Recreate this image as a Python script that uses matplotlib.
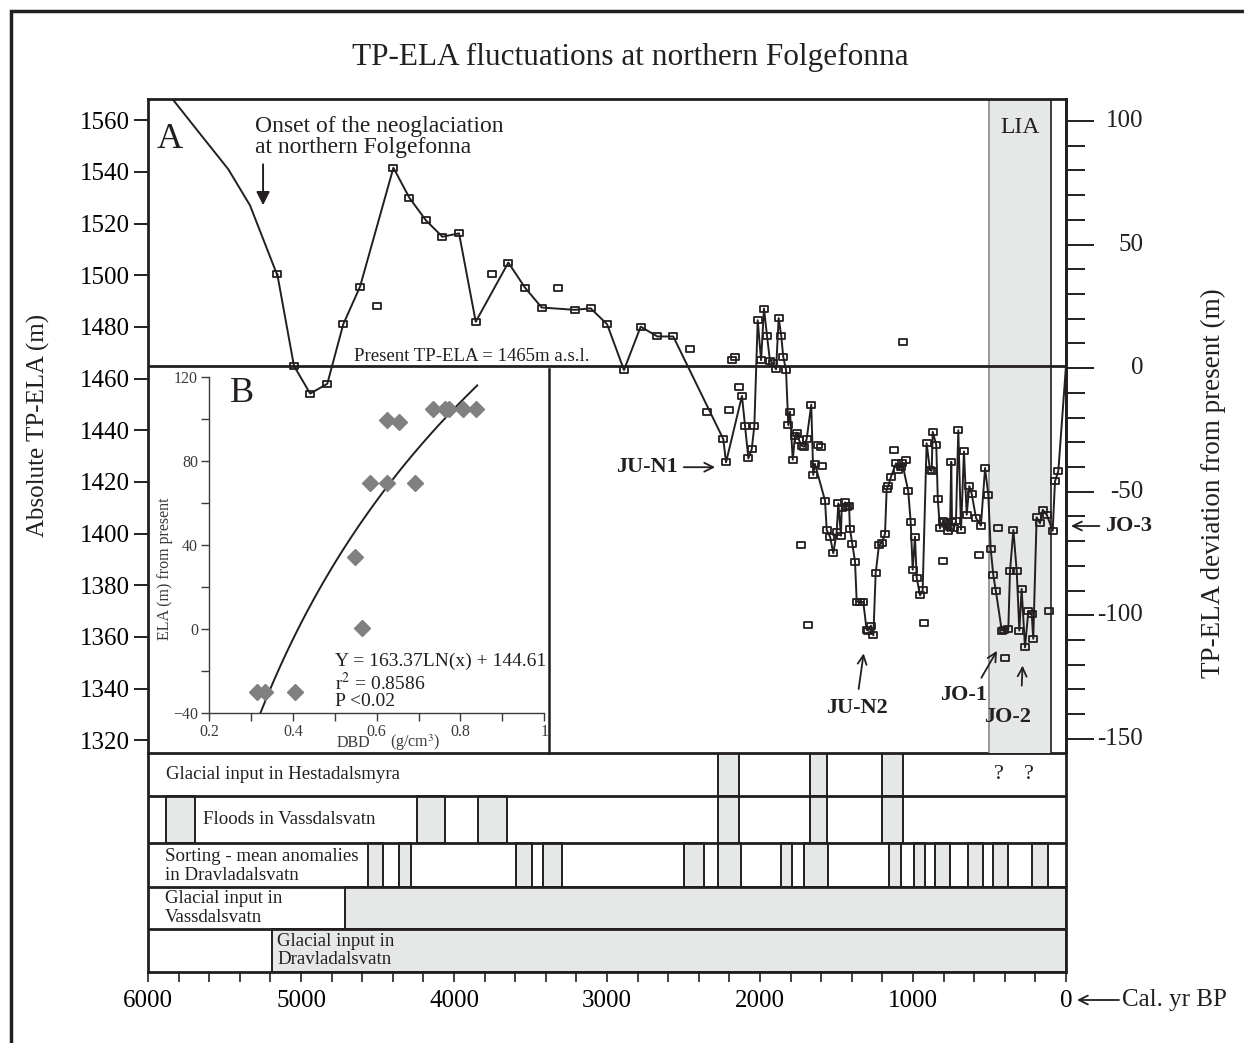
import numpy as np
import matplotlib.pyplot as plt
import matplotlib.transforms as mtransforms
from matplotlib.patches import Rectangle
from matplotlib.lines import Line2D
from matplotlib.path import Path

plt.rcParams['font.family'] = ['Liberation Serif', 'DejaVu Serif']
plt.rcParams['mathtext.fontset'] = 'stix'

# ---------------- data ----------------
present_ela = 1465

# smooth curve before the neoglaciation (no markers)
curve_yr = [5960, 5824, 5650, 5475, 5333, 5155]
curve_ela = [1577, 1567, 1554, 1541, 1527, 1500]

# connected TP-ELA reconstruction
conn_yr = [5155, 5046, 4940, 4828, 4724, 4614, 4396, 4292, 4183, 4076, 3967, 3858,
           3645, 3536, 3427, 3210, 3107, 2999, 2889, 2780, 2671, 2567, 2240, 2222,
           2118, 2098, 2076, 2054, 2037, 2015, 1993, 1974, 1954, 1935, 1917, 1895,
           1878, 1861, 1848, 1830, 1815, 1804, 1786, 1771, 1760, 1745, 1727, 1712,
           1695, 1665, 1652, 1641, 1575, 1564, 1542, 1521, 1499, 1488, 1471, 1466,
           1444, 1433, 1418, 1412, 1397, 1379, 1368, 1346, 1325, 1303, 1292, 1275,
           1259, 1244, 1222, 1205, 1183, 1172, 1161, 1144, 1111, 1096, 1078, 1070,
           1031, 1015, 1002, 987, 976, 954, 937, 911, 889, 878, 871, 848,
           838, 824, 802, 795, 780, 773, 758, 750, 745, 732, 719, 704,
           686, 667, 649, 632, 616, 588, 556, 529, 508, 492, 475, 458,
           420, 405, 377, 366, 344, 322, 305, 290, 268, 246, 224, 214,
           192, 170, 152, 126, 87, 72, 50]
conn_ela = [1500.4, 1464.9, 1454.2, 1458.0, 1481.0, 1495.6, 1541.6, 1530.0, 1521.2, 1514.9, 1516.2, 1482.0,
            1504.9, 1495.2, 1487.5, 1486.6, 1487.2, 1481.0, 1463.3, 1480.1, 1476.3, 1476.3, 1436.6, 1427.6,
            1453.3, 1441.7, 1429.1, 1432.7, 1441.7, 1482.6, 1467.1, 1487.1, 1476.5, 1466.9, 1466.0, 1463.6,
            1483.4, 1476.5, 1468.4, 1463.4, 1442.0, 1447.2, 1428.6, 1437.9, 1439.1, 1436.2, 1434.0, 1433.6,
            1436.6, 1449.9, 1422.7, 1427.0, 1412.8, 1401.4, 1398.8, 1392.4, 1400.5, 1411.7, 1399.2, 1409.9,
            1412.1, 1410.4, 1410.8, 1401.8, 1396.0, 1389.2, 1373.7, 1373.5, 1373.5, 1362.8, 1362.5, 1364.4,
            1360.6, 1384.7, 1395.7, 1396.3, 1399.9, 1417.3, 1418.6, 1422.0, 1427.2, 1424.6, 1425.9, 1427.2,
            1416.4, 1404.4, 1386.0, 1398.8, 1383.0, 1376.1, 1378.0, 1435.0, 1424.6, 1424.3, 1439.4, 1434.3,
            1413.4, 1402.0, 1405.0, 1404.4, 1403.7, 1400.9, 1402.7, 1427.8, 1404.4, 1402.2, 1405.0, 1440.0,
            1401.5, 1431.8, 1407.3, 1418.4, 1415.3, 1406.0, 1403.1, 1425.4, 1415.0, 1394.0, 1383.8, 1377.7,
            1362.5, 1362.8, 1363.1, 1385.4, 1401.4, 1385.4, 1362.5, 1378.6, 1356.0, 1370.0, 1368.7, 1359.3,
            1406.3, 1404.0, 1409.2, 1407.3, 1401.1, 1420.2, 1424.3]

# single (unconnected) samples
single_yr = [4505, 3750, 3318, 2458, 2349, 2201, 2181, 2161, 2137, 1732, 1686, 1619,
             1603, 1593, 1122, 1063, 1048, 928, 806, 568, 443, 399, 109]
single_ela = [1488.1, 1500.5, 1495.2, 1471.4, 1447.1, 1447.8, 1467.1, 1468.4, 1456.8, 1395.5, 1364.8, 1434.4,
              1433.4, 1426.0, 1432.3, 1474.3, 1428.5, 1365.3, 1389.4, 1391.9, 1402.0, 1351.9, 1370.0]

lia = (501, 96)

# inset B: DBD vs ELA
dbd = [0.314, 0.334, 0.405, 0.548, 0.564, 0.583, 0.625, 0.691, 0.625, 0.654,
       0.735, 0.763, 0.773, 0.805, 0.837]
ela_dbd = [-30, -30, -30.3, 34.1, 0.6, 69.4, 69.4, 69.4, 99.6, 98.8,
           104.7, 104.7, 104.7, 104.7, 104.7]
fit_a, fit_b = 163.37, 144.61
fit_r2, fit_p = 0.8586, 0.02

# event bars (older, younger) in cal. yr BP
hesta_bars = [(2275, 2137), (1673, 1562), (1203, 1065)]
floods_bars = [(5884, 5693), (4244, 4057), (3843, 3656), (2275, 2137), (1673, 1562), (1203, 1065)]
sorting_bars = [(4560, 4462), (4358, 4281), (3595, 3492), (3421, 3296), (2495, 2364), (2273, 2124),
                (1861, 1789), (1712, 1558), (1155, 1078), (992, 920), (856, 756), (639, 540),
                (475, 377), (220, 120)]
vass_bars = [(4712, 0)]
drav_bars = [(5188, 0)]
uncertain_yr = [436, 246]

ela_ticks = list(range(1320, 1561, 20))
dev_ticks = [-150, -100, -50, 0, 50, 100]
yr_ticks = [0, 1000, 2000, 3000, 4000, 5000, 6000]

# ---------------- layout ----------------
W, H = 1244, 1043
ink = '#231f20'
grey = '#e6e7e7'


def box(l, t, r, b):
    return [l / W, 1 - b / H, (r - l) / W, (b - t) / H]


fig = plt.figure(figsize=(W / 100, H / 100), dpi=100)

ax = fig.add_axes(box(148, 99, 1066, 753), facecolor='none', zorder=3)
ax_bot = fig.add_axes(box(148, 753, 1066, 972), zorder=2)
ax_b = fig.add_axes(box(209, 377.3, 544.3, 712.7), zorder=1)

# white box behind the inset
fig.add_artist(Rectangle((148 / W, 1 - 753 / H), (549 - 148) / W, (753 - 369) / H,
                         transform=fig.transFigure, facecolor='white', edgecolor='none', zorder=0.5))
fig.add_artist(Line2D([549 / W, 549 / W], [1 - 753 / H, 1 - 369 / H], transform=fig.transFigure,
                      color=ink, lw=1.8, zorder=2.5))

# ---- panel A ----
ax.set_xlim(6000, 0)
ax.set_ylim(1315.1, 1568.2)
ax.set_xticks([])
ax.set_yticks(ela_ticks)
ax.tick_params(axis='y', direction='out', length=10, width=1.4, color=ink, labelsize=18, pad=3)
ax.spines['bottom'].set_visible(False)
for s in ['top', 'left', 'right']:
    ax.spines[s].set_linewidth(2)
    ax.spines[s].set_color(ink)

ax.axvspan(lia[0], lia[1], facecolor=grey, edgecolor='none', zorder=0)
ax.axvline(lia[0], color='#8a8a8a', lw=1.2, zorder=1)
ax.axvline(lia[1], color=ink, lw=1.2, zorder=1)
ax.axhline(present_ela, color=ink, lw=2, zorder=2)

ax.plot(curve_yr + conn_yr + [0], curve_ela + conn_ela + [present_ela], color=ink, lw=1.4, zorder=4)
rect = Path([(-1, -0.75), (1, -0.75), (1, 0.75), (-1, 0.75), (-1, -0.75)],
            [Path.MOVETO, Path.LINETO, Path.LINETO, Path.LINETO, Path.CLOSEPOLY])
ax.plot(conn_yr, conn_ela, ls='none', marker=rect, ms=5.8, mfc='none', mec=ink, mew=1.3, zorder=5)
ax.plot(single_yr, single_ela, ls='none', marker=rect, ms=5.8, mfc='none', mec=ink, mew=1.3, zorder=5)

ax.text(5856, 1552.4, 'A', fontsize=26, ha='center', va='center', color=ink)
ax.text(301, 1557.1, 'LIA', fontsize=17, ha='center', va='center', color=ink)
ax.text(3882, 1468.4, 'Present TP-ELA = 1465m a.s.l.', fontsize=13.5, ha='center', va='center', color=ink)
ax.text(5301, 1553.4, 'Onset of the neoglaciation\nat northern Folgefonna', fontsize=17,
        ha='left', va='center', linespacing=1.0, color=ink)
ax.annotate('', xy=(5248, 1526), xytext=(5248, 1544),
            arrowprops=dict(arrowstyle='-|>', color=ink, lw=1.4, mutation_scale=20))

open_arrow = dict(arrowstyle='->', color=ink, lw=1.3, mutation_scale=16)
ax.text(2536, 1425.7, 'JU-N1', fontsize=16, fontweight='bold', ha='right', va='center', color=ink)
ax.annotate('', xy=(2275, 1425.7), xytext=(2516, 1425.7), arrowprops=open_arrow)
ax.text(1366, 1332.5, 'JU-N2', fontsize=16, fontweight='bold', ha='center', va='center', color=ink)
ax.annotate('', xy=(1320, 1354.7), xytext=(1358, 1338.8), arrowprops=open_arrow)
ax.text(667, 1337.5, 'JO-1', fontsize=16, fontweight='bold', ha='center', va='center', color=ink)
ax.annotate('', xy=(442, 1355.6), xytext=(562, 1343.3), arrowprops=open_arrow)
ax.text(379, 1329.1, 'JO-2', fontsize=16, fontweight='bold', ha='center', va='center', color=ink)
ax.annotate('', xy=(283, 1350), xytext=(290, 1340.1), arrowprops=open_arrow)
ax.annotate('JO-3', xy=(1071, H - 526), xycoords='figure pixels', xytext=(1105, H - 526),
            textcoords='figure pixels', fontsize=16, fontweight='bold', ha='left', va='center',
            color=ink, arrowprops=dict(arrowstyle='->', color=ink, lw=1.3, mutation_scale=16,
                                       shrinkA=2, shrinkB=0))

# right axis: deviation from present
ax2 = ax.twinx()
ax2.set_zorder(4)
ax2.set_ylim(-155.7, 108.9)
ax2.set_yticks(dev_ticks)
ax2.set_yticks(list(range(-150, 101, 10)), minor=True)
ax2.tick_params(axis='y', which='major', direction='out', length=20, width=1.4, color=ink, labelright=False)
ax2.tick_params(axis='y', which='minor', direction='out', length=14, width=1.4, color=ink)
for s in ['top', 'left', 'bottom']:
    ax2.spines[s].set_visible(False)
ax2.spines['right'].set_linewidth(2)
ax2.spines['right'].set_color(ink)
trans2 = mtransforms.blended_transform_factory(ax2.transAxes, ax2.transData)
for v in dev_ticks:
    ax2.text((1143 - 148) / 918, v, str(v), transform=trans2, fontsize=18, ha='right', va='center', color=ink)

# ---- inset B ----
ax_b.set_facecolor('white')
ax_b.set_xlim(0.2, 1.0)
ax_b.set_ylim(-40, 120)
ax_b.set_xticks([0.2, 0.4, 0.6, 0.8, 1.0])
ax_b.set_xticklabels(['0.2', '0.4', '0.6', '0.8', '1'])
ax_b.set_xticks(np.arange(0.2, 1.01, 0.1), minor=True)
ax_b.set_yticks([-40, 0, 40, 80, 120])
ax_b.set_yticks(list(range(-40, 121, 20)), minor=True)
ax_b.tick_params(which='both', direction='out', length=6, width=1, color='#3a3a3a',
                 labelsize=11.5, labelcolor='#3a3a3a', pad=2)
for s in ['top', 'right']:
    ax_b.spines[s].set_visible(False)
for s in ['left', 'bottom']:
    ax_b.spines[s].set_color('#3a3a3a')
    ax_b.spines[s].set_linewidth(1)

xs = np.linspace(np.exp(-(40 + fit_b) / fit_a), 0.84, 100)
ax_b.plot(xs, fit_a * np.log(xs) + fit_b, color=ink, lw=1.4)
ax_b.plot(dbd, ela_dbd, ls='none', marker='D', ms=8.5, color='#808080', clip_on=False)

ax_b.text(0.0975, 0.952, 'B', transform=ax_b.transAxes, fontsize=26, ha='center', va='center', color=ink)
ax_b.text(-0.131, 0.43, 'ELA (m) from present', transform=ax_b.transAxes, rotation=90,
          fontsize=11.5, ha='center', va='center', color='#3a3a3a')
ax_b.text(0.432, -0.09, 'DBD', transform=ax_b.transAxes, fontsize=11.5, ha='center', va='center', color='#3a3a3a')
ax_b.text(0.614, -0.09, '(g/cm$^3$)', transform=ax_b.transAxes, fontsize=11.5, ha='center', va='center',
          color='#3a3a3a')
ax_b.text(0.376, 0.152, f'Y = {fit_a}LN(x) + {fit_b}', transform=ax_b.transAxes, fontsize=14,
          ha='left', va='center', color=ink)
ax_b.text(0.376, 0.088, f'r$^2$ = {fit_r2}', transform=ax_b.transAxes, fontsize=14,
          ha='left', va='center', color=ink)
ax_b.text(0.376, 0.032, f'P <{fit_p}', transform=ax_b.transAxes, fontsize=14,
          ha='left', va='center', color=ink)

# ---- bottom event panel ----
row_edges = [753, 796, 843, 887, 929, 972]
ax_bot.set_xlim(6000, 0)
ax_bot.set_ylim(972, 753)
ax_bot.set_yticks([])
ax_bot.set_xticks(yr_ticks)
ax_bot.set_xticks(list(range(0, 6001, 200)), minor=True)
ax_bot.tick_params(axis='x', which='both', direction='out', length=7, width=1.2, color=ink,
                   labelsize=18, pad=6)
for s in ax_bot.spines.values():
    s.set_linewidth(2)
    s.set_color(ink)
for y in row_edges[1:-1]:
    ax_bot.axhline(y, color=ink, lw=2)

rows = [hesta_bars, floods_bars, sorting_bars, vass_bars, drav_bars]
for i, bars in enumerate(rows):
    top, bottom = row_edges[i], row_edges[i + 1]
    ax_bot.broken_barh([(young, old - young) for old, young in bars], (top, bottom - top),
                       facecolors=grey, edgecolors=ink, linewidth=1.4)

lab = dict(fontsize=13.6, ha='left', va='center', color=ink, linespacing=1.1)
ax_bot.text(5882, 775, 'Glacial input in Hestadalsmyra', **lab)
ax_bot.text(5642, 820, 'Floods in Vassdalsvatn', **lab)
ax_bot.text(5888, 866, 'Sorting - mean anomalies\nin Dravladalsvatn', **lab)
ax_bot.text(5888, 908, 'Glacial input in\nVassdalsvatn', **lab)
ax_bot.text(5157, 950.5, 'Glacial input in\nDravladalsvatn', **lab)
for yr in uncertain_yr:
    ax_bot.text(yr, 775, '?', fontsize=16, ha='center', va='center', color=ink)

# ---- figure texts ----
fig.text(630 / W, 1 - 57 / H, 'TP-ELA fluctuations at northern Folgefonna', fontsize=22.5,
         ha='center', va='center', color=ink)
fig.text(38 / W, 1 - 425 / H, 'Absolute TP-ELA (m)', rotation=90, fontsize=18,
         ha='center', va='center', color=ink)
fig.text(1213 / W, 1 - 483 / H, 'TP-ELA deviation from present (m)', rotation=90, fontsize=19.5,
         ha='center', va='center', color=ink)
fig.text(1122 / W, 1 - 1000 / H, 'Cal. yr BP', fontsize=18, ha='left', va='center', color=ink)
ax_bot.annotate('', xy=(1077, H - 1000), xycoords='figure pixels', xytext=(1119, H - 1000),
                textcoords='figure pixels',
                arrowprops=dict(arrowstyle='->', color=ink, lw=1.3, mutation_scale=16, shrinkA=0, shrinkB=0))

# outer frame
fig.add_artist(Rectangle((11 / W, -0.1), 2, 1.1 - 11 / H, transform=fig.transFigure,
                         fill=False, lw=2.5, edgecolor=ink, zorder=10))

fig.savefig('out.png', dpi=100)
